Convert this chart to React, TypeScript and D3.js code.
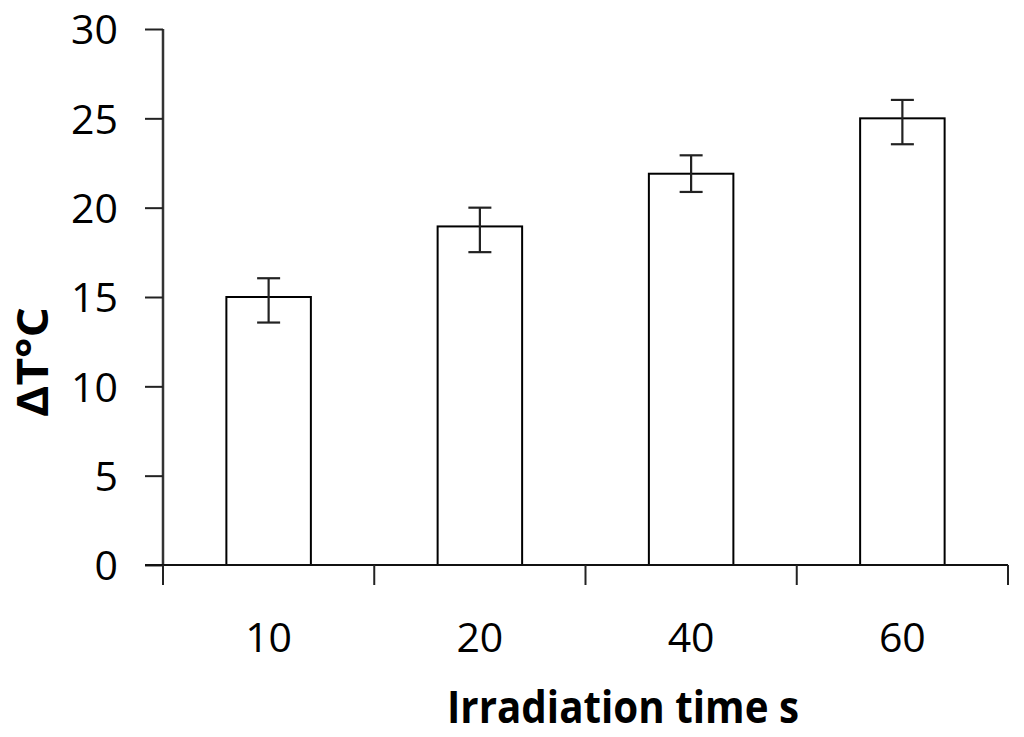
import { useEffect, useRef } from 'react';
import * as d3 from 'd3';

const categories = ['10', '20', '40', '60'];
const values = [15, 18.95, 21.9, 25];
const errUp = [1.05, 1.05, 1.03, 1.03];
const errDown = [1.43, 1.44, 1.02, 1.45];
const yTicks = [0, 5, 10, 15, 20, 25, 30];

const W = 1024;
const H = 737;

function BarChart() {
  const svgRef = useRef<SVGSVGElement>(null);

  useEffect(() => {
    if (!svgRef.current) return;
    const svg = d3.select(svgRef.current);
    svg.selectAll('*').remove();

    const margin = { top: 29, right: 16, bottom: 172, left: 163 };
    const innerW = W - margin.left - margin.right;
    const innerH = H - margin.top - margin.bottom;
    const font = '"Open Sans", "DejaVu Sans", sans-serif';

    const g = svg
      .append('g')
      .attr('transform', `translate(${margin.left},${margin.top})`);

    const x = d3
      .scaleBand()
      .domain(categories)
      .range([0, innerW])
      .paddingInner(0.6)
      .paddingOuter(0.3);
    const y = d3.scaleLinear().domain([0, 30]).range([innerH, 0]);

    const data = categories.map((c, i) => ({
      c,
      v: values[i],
      up: errUp[i],
      down: errDown[i],
    }));

    // bars
    g.selectAll('rect.bar')
      .data(data)
      .join('rect')
      .attr('class', 'bar')
      .attr('x', (d) => x(d.c) ?? 0)
      .attr('y', (d) => y(d.v))
      .attr('width', x.bandwidth())
      .attr('height', (d) => y(0) - y(d.v))
      .attr('fill', '#fff')
      .attr('stroke', '#000')
      .attr('stroke-width', 2);

    // error bars
    const cx = (d: { c: string }) => (x(d.c) ?? 0) + x.bandwidth() / 2;
    const capW = 11.5;
    const eb = g.selectAll('g.err').data(data).join('g').attr('class', 'err');
    eb.append('line')
      .attr('x1', cx)
      .attr('x2', cx)
      .attr('y1', (d) => y(d.v + d.up))
      .attr('y2', (d) => y(d.v - d.down));
    eb.append('line')
      .attr('x1', (d) => cx(d) - capW)
      .attr('x2', (d) => cx(d) + capW)
      .attr('y1', (d) => y(d.v + d.up))
      .attr('y2', (d) => y(d.v + d.up));
    eb.append('line')
      .attr('x1', (d) => cx(d) - capW)
      .attr('x2', (d) => cx(d) + capW)
      .attr('y1', (d) => y(d.v - d.down))
      .attr('y2', (d) => y(d.v - d.down));
    eb.selectAll('line').attr('stroke', '#222').attr('stroke-width', 2.2);

    // y axis
    const yAxis = g
      .append('g')
      .call(d3.axisLeft(y).tickValues(yTicks).tickSize(18).tickPadding(27));
    yAxis.select('.domain').attr('stroke', '#333').attr('stroke-width', 2.5).attr('d', `M0,0V${innerH}`);
    yAxis.selectAll('.tick line').attr('stroke', '#222').attr('stroke-width', 2);
    yAxis
      .selectAll('.tick text')
      .attr('fill', '#000')
      .style('font-family', font)
      .style('font-size', '41px')
      .attr('dy', '0.36em');

    // x axis with ticks at band boundaries
    const bounds = categories.map((c) => (x(c) ?? 0) - (x.step() * x.paddingInner()) / 2);
    bounds[0] = 0;
    bounds.push(innerW);
    const xAxis = g.append('g').attr('transform', `translate(0,${innerH})`);
    xAxis
      .append('line')
      .attr('x1', -18)
      .attr('x2', innerW)
      .attr('stroke', '#111')
      .attr('stroke-width', 2);
    xAxis
      .selectAll('line.tk')
      .data(bounds)
      .join('line')
      .attr('class', 'tk')
      .attr('x1', (d) => d)
      .attr('x2', (d) => d)
      .attr('y1', 0)
      .attr('y2', 20)
      .attr('stroke', '#222')
      .attr('stroke-width', 2);
    xAxis
      .selectAll('text.lbl')
      .data(categories)
      .join('text')
      .attr('class', 'lbl')
      .attr('x', (d) => (x(d) ?? 0) + x.bandwidth() / 2)
      .attr('y', 652 - margin.top - innerH)
      .attr('text-anchor', 'middle')
      .attr('fill', '#000')
      .style('font-family', font)
      .style('font-size', '41px')
      .text((d) => d);

    // axis titles
    svg
      .append('text')
      .attr('x', 623)
      .attr('y', 723)
      .attr('text-anchor', 'middle')
      .attr('textLength', 352)
      .attr('lengthAdjust', 'spacingAndGlyphs')
      .style('font-family', font)
      .style('font-weight', 'bold')
      .style('font-size', '44px')
      .attr('fill', '#000')
      .text('Irradiation time s');

    svg
      .append('text')
      .attr('transform', 'translate(48,362) rotate(-90)')
      .attr('text-anchor', 'middle')
      .attr('textLength', 110)
      .attr('lengthAdjust', 'spacingAndGlyphs')
      .style('font-family', font)
      .style('font-weight', 'bold')
      .style('font-size', '43px')
      .attr('fill', '#000')
      .text('ΔT°C');
  }, []);

  return (
    <svg
      ref={svgRef}
      width={W}
      height={H}
      style={{ position: 'absolute', left: 0, top: 0, background: '#fff' }}
    />
  );
}

export default function App() {
  return <BarChart />;
}
